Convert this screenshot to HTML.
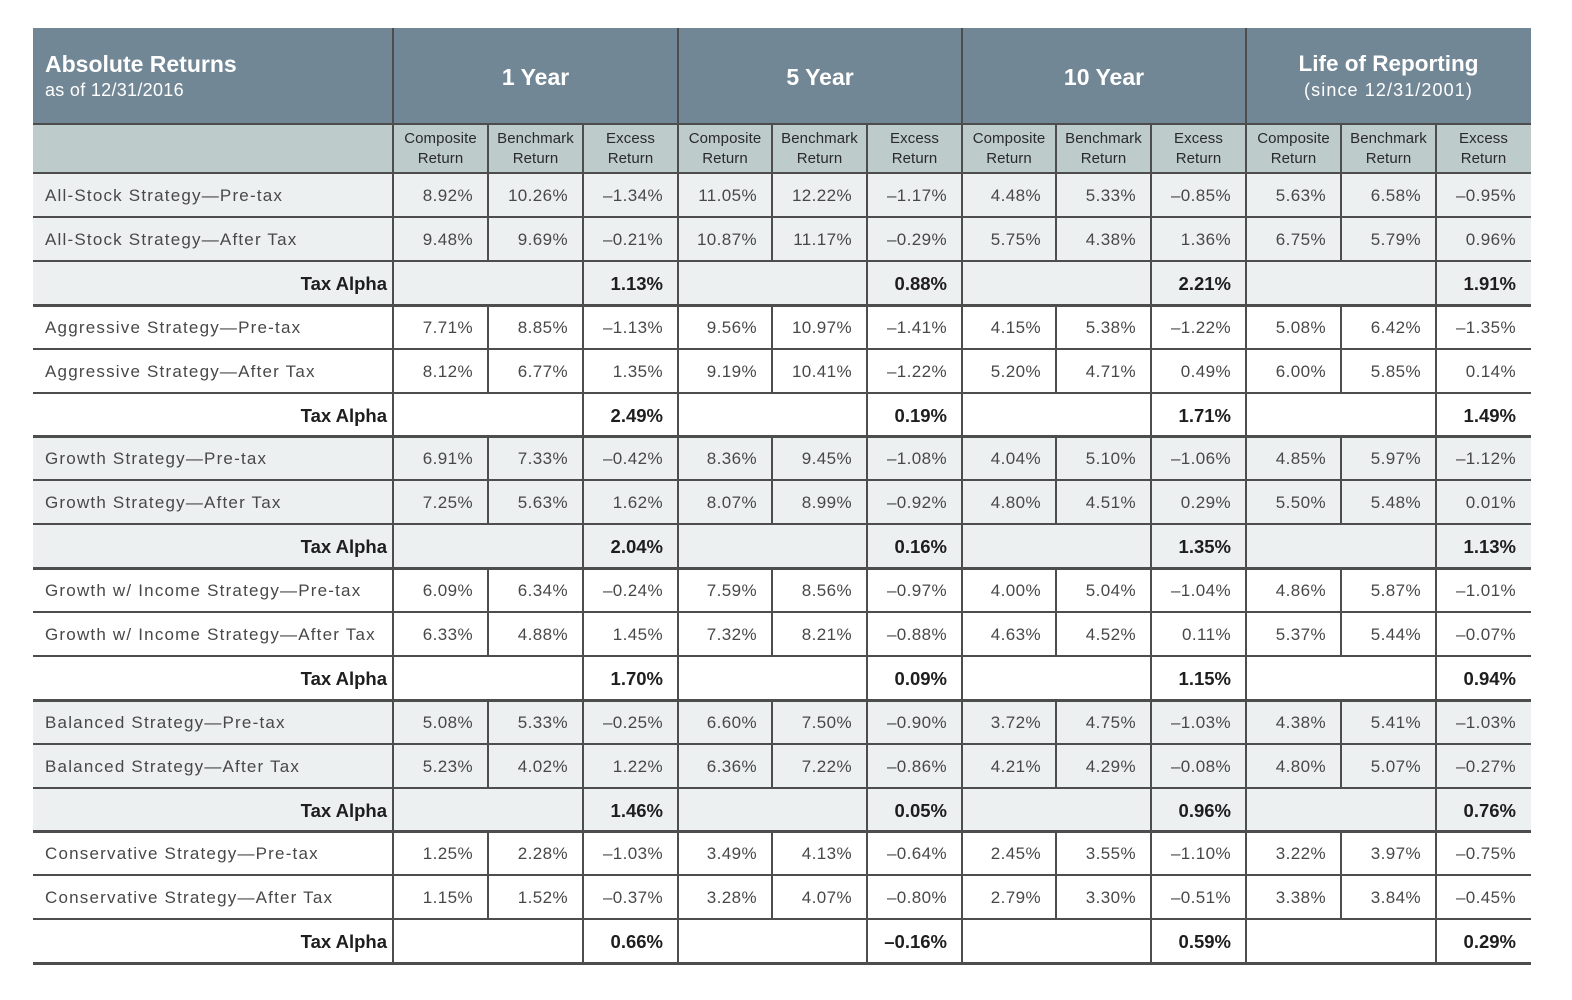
<!DOCTYPE html>
<html><head><meta charset="utf-8">
<style>
body{margin:0;background:#fff;width:1572px;height:1000px;position:relative;overflow:hidden;font-family:"Liberation Sans",sans-serif}
.bg{position:absolute}
.h{position:absolute;background:#4d4d4d;height:2px;left:33px;width:1498px}
.v{position:absolute;background:#4d4d4d;width:2px}
.ht{position:absolute;color:#fff;white-space:nowrap}
.sh{position:absolute;top:129px;height:40px;line-height:20px;font-size:15px;color:#2a2a2a;text-align:center;letter-spacing:0.1px}
.r{position:absolute;left:0;width:1572px;height:44px;line-height:45px}
.r span{position:absolute;top:0;text-align:right;box-sizing:border-box;padding-right:15px;font-size:17px;letter-spacing:0.4px;color:#484848;white-space:nowrap}
.r span.l{left:45px;width:340px;text-align:left;padding:0;letter-spacing:1.2px}
.r span.t{left:33px;width:360px;padding-right:6px;font-weight:bold;font-size:18.5px;color:#1e1e1e;letter-spacing:0}
.r span.b{font-weight:bold;font-size:18.5px;color:#1e1e1e;letter-spacing:0}
.a1{left:393px;width:95px}.a2{left:488px;width:95px}.a3{left:583px;width:95px}
.b1{left:678px;width:94px}.b2{left:772px;width:95px}.b3{left:867px;width:95px}
.c1{left:962px;width:94px}.c2{left:1056px;width:95px}.c3{left:1151px;width:95px}
.d1{left:1246px;width:95px}.d2{left:1341px;width:95px}.d3{left:1436px;width:95px}
</style></head><body>
<!-- backgrounds -->
<div class="bg" style="left:33px;top:28px;width:1498px;height:96px;background:#728796"></div>
<div class="bg" style="left:33px;top:124px;width:1498px;height:49px;background:#bdcbca"></div>
<div class="bg" style="left:33px;top:173px;width:1498px;height:132px;background:#ecf0f1"></div>
<div class="bg" style="left:33px;top:436px;width:1498px;height:132px;background:#ecf0f1"></div>
<div class="bg" style="left:33px;top:700px;width:1498px;height:131px;background:#ecf0f1"></div>

<!-- header text -->
<div class="ht" style="left:45px;top:50px;font-size:23px;font-weight:bold;line-height:28px">Absolute Returns</div>
<div class="ht" style="left:45px;top:79px;font-size:18px;line-height:22px;letter-spacing:0.3px">as of 12/31/2016</div>
<div class="ht" style="left:393px;width:285px;text-align:center;top:63px;font-size:23px;font-weight:bold;line-height:28px">1 Year</div>
<div class="ht" style="left:678px;width:284px;text-align:center;top:63px;font-size:23px;font-weight:bold;line-height:28px">5 Year</div>
<div class="ht" style="left:962px;width:284px;text-align:center;top:63px;font-size:23px;font-weight:bold;line-height:28px">10 Year</div>
<div class="ht" style="left:1246px;width:285px;text-align:center;top:50px;font-size:22.5px;font-weight:bold;line-height:28px">Life of Reporting</div>
<div class="ht" style="left:1246px;width:285px;text-align:center;top:79px;font-size:18px;line-height:22px;letter-spacing:1.1px">(since 12/31/2001)</div>

<!-- subheader -->
<div class="sh" style="left:393px;width:95px">Composite<br>Return</div>
<div class="sh" style="left:488px;width:95px">Benchmark<br>Return</div>
<div class="sh" style="left:583px;width:95px">Excess<br>Return</div>
<div class="sh" style="left:678px;width:94px">Composite<br>Return</div>
<div class="sh" style="left:772px;width:95px">Benchmark<br>Return</div>
<div class="sh" style="left:867px;width:95px">Excess<br>Return</div>
<div class="sh" style="left:962px;width:94px">Composite<br>Return</div>
<div class="sh" style="left:1056px;width:95px">Benchmark<br>Return</div>
<div class="sh" style="left:1151px;width:95px">Excess<br>Return</div>
<div class="sh" style="left:1246px;width:95px">Composite<br>Return</div>
<div class="sh" style="left:1341px;width:95px">Benchmark<br>Return</div>
<div class="sh" style="left:1436px;width:95px">Excess<br>Return</div>

<!-- rows -->
<div class="r" style="top:173px"><span class="l">All-Stock Strategy—Pre-tax</span><span class="a1">8.92%</span><span class="a2">10.26%</span><span class="a3">–1.34%</span><span class="b1">11.05%</span><span class="b2">12.22%</span><span class="b3">–1.17%</span><span class="c1">4.48%</span><span class="c2">5.33%</span><span class="c3">–0.85%</span><span class="d1">5.63%</span><span class="d2">6.58%</span><span class="d3">–0.95%</span></div>
<div class="r" style="top:217px"><span class="l">All-Stock Strategy—After Tax</span><span class="a1">9.48%</span><span class="a2">9.69%</span><span class="a3">–0.21%</span><span class="b1">10.87%</span><span class="b2">11.17%</span><span class="b3">–0.29%</span><span class="c1">5.75%</span><span class="c2">4.38%</span><span class="c3">1.36%</span><span class="d1">6.75%</span><span class="d2">5.79%</span><span class="d3">0.96%</span></div>
<div class="r" style="top:261px"><span class="t">Tax Alpha</span><span class="a3 b">1.13%</span><span class="b3 b">0.88%</span><span class="c3 b">2.21%</span><span class="d3 b">1.91%</span></div>
<div class="r" style="top:305px"><span class="l">Aggressive Strategy—Pre-tax</span><span class="a1">7.71%</span><span class="a2">8.85%</span><span class="a3">–1.13%</span><span class="b1">9.56%</span><span class="b2">10.97%</span><span class="b3">–1.41%</span><span class="c1">4.15%</span><span class="c2">5.38%</span><span class="c3">–1.22%</span><span class="d1">5.08%</span><span class="d2">6.42%</span><span class="d3">–1.35%</span></div>
<div class="r" style="top:349px"><span class="l">Aggressive Strategy—After Tax</span><span class="a1">8.12%</span><span class="a2">6.77%</span><span class="a3">1.35%</span><span class="b1">9.19%</span><span class="b2">10.41%</span><span class="b3">–1.22%</span><span class="c1">5.20%</span><span class="c2">4.71%</span><span class="c3">0.49%</span><span class="d1">6.00%</span><span class="d2">5.85%</span><span class="d3">0.14%</span></div>
<div class="r" style="top:393px"><span class="t">Tax Alpha</span><span class="a3 b">2.49%</span><span class="b3 b">0.19%</span><span class="c3 b">1.71%</span><span class="d3 b">1.49%</span></div>
<div class="r" style="top:436px"><span class="l">Growth Strategy—Pre-tax</span><span class="a1">6.91%</span><span class="a2">7.33%</span><span class="a3">–0.42%</span><span class="b1">8.36%</span><span class="b2">9.45%</span><span class="b3">–1.08%</span><span class="c1">4.04%</span><span class="c2">5.10%</span><span class="c3">–1.06%</span><span class="d1">4.85%</span><span class="d2">5.97%</span><span class="d3">–1.12%</span></div>
<div class="r" style="top:480px"><span class="l">Growth Strategy—After Tax</span><span class="a1">7.25%</span><span class="a2">5.63%</span><span class="a3">1.62%</span><span class="b1">8.07%</span><span class="b2">8.99%</span><span class="b3">–0.92%</span><span class="c1">4.80%</span><span class="c2">4.51%</span><span class="c3">0.29%</span><span class="d1">5.50%</span><span class="d2">5.48%</span><span class="d3">0.01%</span></div>
<div class="r" style="top:524px"><span class="t">Tax Alpha</span><span class="a3 b">2.04%</span><span class="b3 b">0.16%</span><span class="c3 b">1.35%</span><span class="d3 b">1.13%</span></div>
<div class="r" style="top:568px"><span class="l">Growth w/ Income Strategy—Pre-tax</span><span class="a1">6.09%</span><span class="a2">6.34%</span><span class="a3">–0.24%</span><span class="b1">7.59%</span><span class="b2">8.56%</span><span class="b3">–0.97%</span><span class="c1">4.00%</span><span class="c2">5.04%</span><span class="c3">–1.04%</span><span class="d1">4.86%</span><span class="d2">5.87%</span><span class="d3">–1.01%</span></div>
<div class="r" style="top:612px"><span class="l">Growth w/ Income Strategy—After Tax</span><span class="a1">6.33%</span><span class="a2">4.88%</span><span class="a3">1.45%</span><span class="b1">7.32%</span><span class="b2">8.21%</span><span class="b3">–0.88%</span><span class="c1">4.63%</span><span class="c2">4.52%</span><span class="c3">0.11%</span><span class="d1">5.37%</span><span class="d2">5.44%</span><span class="d3">–0.07%</span></div>
<div class="r" style="top:656px"><span class="t">Tax Alpha</span><span class="a3 b">1.70%</span><span class="b3 b">0.09%</span><span class="c3 b">1.15%</span><span class="d3 b">0.94%</span></div>
<div class="r" style="top:700px"><span class="l">Balanced Strategy—Pre-tax</span><span class="a1">5.08%</span><span class="a2">5.33%</span><span class="a3">–0.25%</span><span class="b1">6.60%</span><span class="b2">7.50%</span><span class="b3">–0.90%</span><span class="c1">3.72%</span><span class="c2">4.75%</span><span class="c3">–1.03%</span><span class="d1">4.38%</span><span class="d2">5.41%</span><span class="d3">–1.03%</span></div>
<div class="r" style="top:744px"><span class="l">Balanced Strategy—After Tax</span><span class="a1">5.23%</span><span class="a2">4.02%</span><span class="a3">1.22%</span><span class="b1">6.36%</span><span class="b2">7.22%</span><span class="b3">–0.86%</span><span class="c1">4.21%</span><span class="c2">4.29%</span><span class="c3">–0.08%</span><span class="d1">4.80%</span><span class="d2">5.07%</span><span class="d3">–0.27%</span></div>
<div class="r" style="top:788px"><span class="t">Tax Alpha</span><span class="a3 b">1.46%</span><span class="b3 b">0.05%</span><span class="c3 b">0.96%</span><span class="d3 b">0.76%</span></div>
<div class="r" style="top:831px"><span class="l">Conservative Strategy—Pre-tax</span><span class="a1">1.25%</span><span class="a2">2.28%</span><span class="a3">–1.03%</span><span class="b1">3.49%</span><span class="b2">4.13%</span><span class="b3">–0.64%</span><span class="c1">2.45%</span><span class="c2">3.55%</span><span class="c3">–1.10%</span><span class="d1">3.22%</span><span class="d2">3.97%</span><span class="d3">–0.75%</span></div>
<div class="r" style="top:875px"><span class="l">Conservative Strategy—After Tax</span><span class="a1">1.15%</span><span class="a2">1.52%</span><span class="a3">–0.37%</span><span class="b1">3.28%</span><span class="b2">4.07%</span><span class="b3">–0.80%</span><span class="c1">2.79%</span><span class="c2">3.30%</span><span class="c3">–0.51%</span><span class="d1">3.38%</span><span class="d2">3.84%</span><span class="d3">–0.45%</span></div>
<div class="r" style="top:919px"><span class="t">Tax Alpha</span><span class="a3 b">0.66%</span><span class="b3 b">–0.16%</span><span class="c3 b">0.59%</span><span class="d3 b">0.29%</span></div>

<!-- horizontal lines -->
<div class="h" style="top:123px"></div>
<div class="h" style="top:172px"></div>
<div class="h" style="top:216px"></div>
<div class="h" style="top:260px"></div>
<div class="h" style="top:304px;height:3px"></div>
<div class="h" style="top:348px"></div>
<div class="h" style="top:392px"></div>
<div class="h" style="top:435px;height:3px"></div>
<div class="h" style="top:479px"></div>
<div class="h" style="top:523px"></div>
<div class="h" style="top:567px;height:3px"></div>
<div class="h" style="top:611px"></div>
<div class="h" style="top:655px"></div>
<div class="h" style="top:699px;height:3px"></div>
<div class="h" style="top:743px"></div>
<div class="h" style="top:787px"></div>
<div class="h" style="top:830px;height:3px"></div>
<div class="h" style="top:874px"></div>
<div class="h" style="top:918px"></div>
<div class="h" style="top:962px;height:3px"></div>

<!-- vertical group lines -->
<div class="v" style="left:392px;top:28px;height:936px"></div>
<div class="v" style="left:677px;top:28px;height:936px"></div>
<div class="v" style="left:961px;top:28px;height:936px"></div>
<div class="v" style="left:1245px;top:28px;height:936px"></div>
<!-- excess column lines (continuous) -->
<div class="v" style="left:582px;top:124px;height:840px"></div>
<div class="v" style="left:866px;top:124px;height:840px"></div>
<div class="v" style="left:1150px;top:124px;height:840px"></div>
<div class="v" style="left:1435px;top:124px;height:840px"></div>
<!-- composite/benchmark lines (broken at tax alpha rows) -->
<div class="v" style="left:487px;top:124px;height:138px"></div>
<div class="v" style="left:487px;top:305px;height:89px"></div>
<div class="v" style="left:487px;top:436px;height:89px"></div>
<div class="v" style="left:487px;top:568px;height:89px"></div>
<div class="v" style="left:487px;top:700px;height:89px"></div>
<div class="v" style="left:487px;top:831px;height:89px"></div>
<div class="v" style="left:771px;top:124px;height:138px"></div>
<div class="v" style="left:771px;top:305px;height:89px"></div>
<div class="v" style="left:771px;top:436px;height:89px"></div>
<div class="v" style="left:771px;top:568px;height:89px"></div>
<div class="v" style="left:771px;top:700px;height:89px"></div>
<div class="v" style="left:771px;top:831px;height:89px"></div>
<div class="v" style="left:1055px;top:124px;height:138px"></div>
<div class="v" style="left:1055px;top:305px;height:89px"></div>
<div class="v" style="left:1055px;top:436px;height:89px"></div>
<div class="v" style="left:1055px;top:568px;height:89px"></div>
<div class="v" style="left:1055px;top:700px;height:89px"></div>
<div class="v" style="left:1055px;top:831px;height:89px"></div>
<div class="v" style="left:1340px;top:124px;height:138px"></div>
<div class="v" style="left:1340px;top:305px;height:89px"></div>
<div class="v" style="left:1340px;top:436px;height:89px"></div>
<div class="v" style="left:1340px;top:568px;height:89px"></div>
<div class="v" style="left:1340px;top:700px;height:89px"></div>
<div class="v" style="left:1340px;top:831px;height:89px"></div>
</body></html>
